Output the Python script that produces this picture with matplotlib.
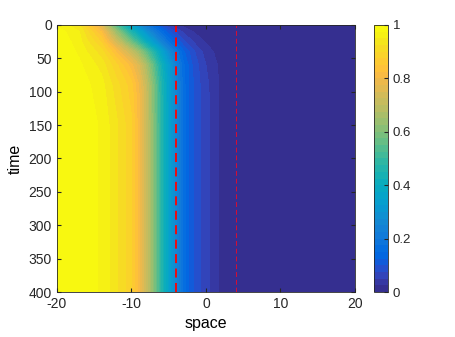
# Front profile u(x, t) shown as a filled contour map (MATLAB look)
import numpy as np
import matplotlib.pyplot as plt
from matplotlib.colors import LinearSegmentedColormap

plt.rcParams['font.family'] = ['Liberation Sans', 'DejaVu Sans']
plt.rcParams['axes.unicode_minus'] = False

# Values
space = [-20, -17, -14, -12, -10, -9, -8, -7, -6, -5, -4, -3, -2, -1, 0, 1, 2, 3, 4, 20]
time = [0, 10, 25, 40, 60, 90, 150, 400]
u_t0 = [0.97, 0.93, 0.75, 0.52, 0.35, 0.27, 0.20, 0.14, 0.09, 0.05, 0.03, 0.015, 0.007, 0.003, 0, 0, 0, 0, 0, 0]
u_t10 = [0.99, 0.95, 0.82, 0.63, 0.45, 0.37, 0.29, 0.22, 0.16, 0.11, 0.07, 0.045, 0.028, 0.016, 0.008, 0.003, 0, 0, 0, 0]
u_t25 = [1.0, 0.96, 0.87, 0.73, 0.57, 0.49, 0.40, 0.32, 0.24, 0.17, 0.12, 0.08, 0.055, 0.035, 0.022, 0.012, 0.005, 0.001, 0, 0]
u_t40 = [1.0, 0.97, 0.91, 0.82, 0.71, 0.64, 0.55, 0.46, 0.36, 0.27, 0.19, 0.13, 0.09, 0.06, 0.04, 0.025, 0.013, 0.005, 0, 0]
u_t60 = [1.0, 0.98, 0.94, 0.88, 0.81, 0.75, 0.66, 0.55, 0.43, 0.33, 0.23, 0.155, 0.105, 0.075, 0.05, 0.033, 0.018, 0.008, 0, 0]
u_t90 = [1.0, 0.99, 0.96, 0.91, 0.86, 0.80, 0.71, 0.59, 0.46, 0.35, 0.25, 0.16, 0.11, 0.08, 0.058, 0.038, 0.02, 0.009, 0, 0]
u_t150 = [1.0, 1.0, 0.97, 0.93, 0.88, 0.81, 0.72, 0.60, 0.47, 0.35, 0.25, 0.16, 0.11, 0.08, 0.06, 0.04, 0.02, 0.01, 0, 0]
u_t400 = [1.0, 1.0, 0.97, 0.93, 0.88, 0.81, 0.72, 0.60, 0.47, 0.35, 0.25, 0.16, 0.11, 0.08, 0.06, 0.04, 0.02, 0.01, 0, 0]
marker_lines = [-4, 4]

# parula (subsampled)
PARULA = [
    (0.2081, 0.1663, 0.5292), (0.2123, 0.2138, 0.6270), (0.1959, 0.2645, 0.7279),
    (0.1253, 0.3242, 0.8303), (0.0117, 0.3875, 0.8820), (0.0165, 0.4266, 0.8786),
    (0.0498, 0.4586, 0.8641), (0.0723, 0.4887, 0.8467), (0.0793, 0.5200, 0.8312),
    (0.0641, 0.5570, 0.8240), (0.0343, 0.5966, 0.8199), (0.0239, 0.6287, 0.8038),
    (0.0228, 0.6535, 0.7768), (0.0384, 0.6743, 0.7436), (0.0843, 0.6928, 0.7062),
    (0.1453, 0.7098, 0.6646), (0.2178, 0.7250, 0.6193), (0.3022, 0.7376, 0.5712),
    (0.3953, 0.7459, 0.5244), (0.4871, 0.7491, 0.4840), (0.5709, 0.7485, 0.4494),
    (0.6473, 0.7456, 0.4188), (0.7184, 0.7411, 0.3905), (0.7858, 0.7356, 0.3633),
    (0.8507, 0.7299, 0.3360), (0.9139, 0.7258, 0.3063), (0.9739, 0.7314, 0.2666),
    (0.9990, 0.7653, 0.2164), (0.9880, 0.8066, 0.1794), (0.9697, 0.8481, 0.1475),
    (0.9589, 0.8949, 0.1132), (0.9661, 0.9514, 0.0755), (0.9763, 0.9831, 0.0538),
]
parula = LinearSegmentedColormap.from_list('parula', PARULA, N=256)

U = np.array([u_t0, u_t10, u_t25, u_t40, u_t60, u_t90, u_t150, u_t400])
X, T = np.meshgrid(space, time)

fig = plt.figure(figsize=(4.55, 3.37), dpi=100)
ax = fig.add_axes([0.125, 0.1335, 0.655, 0.7925])
cax = fig.add_axes([0.822, 0.1335, 0.031, 0.7925])

cs = ax.contourf(X, T, U, levels=np.linspace(0, 1, 41), cmap=parula, vmin=0, vmax=1)

ax.axvline(marker_lines[0], color='red', linestyle=(0, (5, 3)), linewidth=1.3)
ax.axvline(marker_lines[1], color=(0.85, 0.05, 0.2), linestyle=(0, (5, 3)), linewidth=0.7)

ax.set_xlim(-20, 20)
ax.set_ylim(400, 0)
ax.set_xticks([-20, -10, 0, 10, 20])
ax.set_yticks(range(0, 401, 50))
ax.set_xlabel('space', fontsize=11.5)
ax.set_ylabel('time', fontsize=11.5)
ax.tick_params(direction='in', top=True, right=True, labelsize=10, length=3,
               color=(0.15, 0.15, 0.15), labelcolor=(0.15, 0.15, 0.15))
for s in ax.spines.values():
    s.set_color((0.15, 0.15, 0.15))
    s.set_linewidth(0.6)

cb = fig.colorbar(cs, cax=cax, ticks=[0, 0.2, 0.4, 0.6, 0.8, 1])
cb.ax.set_yticklabels(['0', '0.2', '0.4', '0.6', '0.8', '1'])
cb.ax.tick_params(direction='in', labelsize=9.5, length=3, color=(0.15, 0.15, 0.15),
                  labelcolor=(0.15, 0.15, 0.15))
cb.outline.set_linewidth(0.6)
cb.outline.set_edgecolor((0.15, 0.15, 0.15))

fig.savefig('out.png', dpi=100)
